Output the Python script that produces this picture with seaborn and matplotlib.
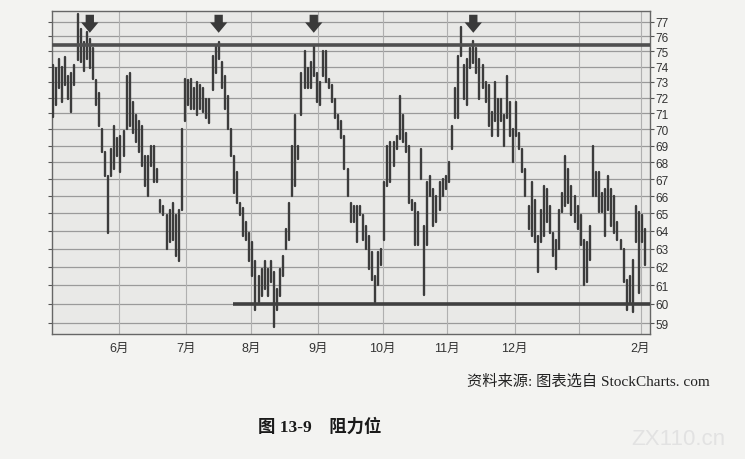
import numpy as np
import pandas as pd
import seaborn as sns
import matplotlib
matplotlib.use('Agg')
import matplotlib.pyplot as plt
from matplotlib.ticker import FixedLocator, FixedFormatter, NullLocator

sns.set_style('ticks')
plt.rcParams['font.family'] = ['Liberation Sans', 'Noto Sans CJK SC', 'DejaVu Sans']

# daily high / low (May .. early Feb)
highs = [74.1, 73.9, 74.5, 74.0, 74.6, 73.4, 73.6, 74.1, 77.5, 76.5, 75.6, 76.3, 75.8, 75.2, 73.1, 72.3, 70.0, 68.6, 67.2, 68.8, 70.2, 69.5,
         69.6, 69.9, 73.4, 73.6, 71.7, 70.9, 70.5, 70.2, 68.4, 68.4, 69.0, 69.0, 67.6, 65.8, 65.4, 64.9, 65.2, 65.6, 64.9, 65.2, 70.0, 73.2,
         73.1, 73.2, 72.6, 73.0, 72.8, 72.6, 71.9, 71.9, 74.7, 75.4, 75.6, 74.3, 73.4, 72.1, 70.0, 68.4, 67.4, 65.6, 65.3, 64.5, 63.9,
         63.4, 62.3, 61.5, 61.9, 62.3, 61.9, 62.3, 61.7, 60.8, 61.9, 62.6, 64.1, 65.6, 69.0, 70.9, 69.0, 73.6, 75.0, 73.9, 74.3, 75.4, 73.6,
         73.0, 75.0, 75.0, 73.2, 72.8, 71.9, 70.9, 70.5, 69.6, 67.6, 65.6, 65.4, 65.4, 65.4, 64.9, 64.3, 63.7, 62.8, 61.5, 62.8, 63.0,
         66.8, 69.0, 69.2, 69.2, 69.6, 72.1, 70.9, 69.8, 69.0, 65.8, 65.6, 65.1, 68.8, 64.3, 66.8, 67.2, 66.4, 66.0, 66.8, 67.0, 67.2,
         68.0, 70.2, 72.6, 74.7, 76.6, 74.1, 74.5, 75.2, 75.7, 75.2, 74.5, 74.1, 73.0, 72.8, 71.1, 73.0, 71.9, 71.9, 70.9, 73.4, 71.7, 70.0,
         71.7, 69.8, 68.8, 67.6, 65.4, 66.8, 65.8, 63.7, 65.2, 66.6, 66.4, 65.4, 63.9, 63.5, 65.2, 66.2, 68.4, 67.6, 66.6, 66.0, 65.4,
         64.9, 63.5, 63.4, 64.3, 69.0, 67.4, 67.4, 66.2, 66.4, 67.2, 66.4, 66.0, 64.5, 63.5, 63.0, 61.3, 61.5, 62.4, 65.4, 65.1,
         64.9, 64.1]
lows = [70.8, 71.5, 72.6, 71.7, 72.8, 71.9, 71.1, 72.8, 74.4, 74.3, 73.7, 74.5, 73.9, 73.2, 71.5, 70.2, 68.6, 67.2, 63.9, 67.2, 67.6, 68.4,
        67.4, 68.4, 70.0, 70.2, 69.8, 69.2, 68.6, 67.8, 66.6, 66.0, 67.8, 66.8, 66.8, 65.1, 64.9, 63.0, 63.4, 63.5, 62.6, 62.3, 65.2, 70.5,
        71.5, 71.3, 71.3, 70.9, 71.3, 71.1, 70.7, 70.4, 72.5, 73.6, 74.5, 72.6, 71.3, 70.0, 68.4, 66.2, 65.6, 64.9, 63.7, 63.5, 62.3,
        61.5, 59.7, 60.1, 60.4, 60.8, 60.4, 61.2, 58.8, 59.7, 60.4, 61.5, 63.0, 63.5, 66.0, 66.6, 68.2, 70.9, 72.6, 72.6, 72.6, 73.4, 71.7,
        71.5, 73.4, 73.0, 72.6, 71.7, 70.7, 70.0, 69.5, 67.6, 66.0, 64.5, 64.5, 63.4, 64.9, 63.5, 63.0, 61.9, 61.3, 60.1, 61.0, 62.1,
        63.5, 66.6, 66.8, 67.8, 68.8, 69.4, 69.2, 68.6, 65.6, 65.2, 63.2, 63.2, 67.0, 60.5, 63.2, 66.0, 64.3, 64.5, 65.2, 66.0, 66.4,
        66.8, 68.8, 70.7, 70.7, 74.7, 71.9, 71.5, 73.9, 74.2, 73.6, 71.9, 72.6, 71.7, 70.2, 69.6, 70.5, 69.6, 70.5, 69.0, 70.7, 69.6, 68.0,
        69.6, 68.8, 67.4, 66.0, 64.1, 63.7, 63.4, 61.7, 63.4, 63.7, 64.5, 63.9, 62.6, 61.9, 63.0, 65.1, 65.4, 65.6, 64.9, 64.5, 64.1,
        63.2, 61.0, 61.2, 62.4, 66.0, 66.0, 65.1, 65.1, 63.7, 65.2, 64.3, 63.9, 63.5, 63.0, 61.2, 59.7, 60.1, 59.6, 63.4, 60.6,
        63.4, 62.1]
assert len(highs) == len(lows)

month_starts = [22, 44, 65, 87, 108, 129, 151, 172, 192]
month_labels = ['6月', '7月', '8月', '9月', '10月', '11月', '12月', '', '2月']
price_ticks = list(range(59, 78))
peak_bars = [12, 54, 85, 137]
resistance = 75.4
support = 60.0
support_from = 58.6

n = len(highs)
df = pd.DataFrame({
    'bar': np.repeat(np.arange(n), 2),
    'day': np.repeat(np.arange(n), 2),
    'price': np.ravel(np.column_stack([lows, highs])),
})

fig = plt.figure(figsize=(7.45, 4.6), dpi=100, facecolor='#f3f3f1')
ax = fig.add_axes([0.0694, 0.2717, 0.8031, 0.7029])
ax.set_facecolor('#e9e9e7')

ax.set_yscale('log')
ax.set_ylim(58.43, 77.74)
ax.set_xlim(-0.42, n + 0.6)

for p in price_ticks:
    ax.axhline(p, color='#9a9a9a', lw=0.9, zorder=1)
for m in month_starts:
    ax.axvline(m - 0.5, color='#b0b0b0', lw=0.8, zorder=1)

sns.lineplot(data=df, x='day', y='price', units='bar', estimator=None,
             color='#3c3c3c', lw=1.7, ax=ax, zorder=3, legend=False)

ax.axhline(resistance, color='#505050', lw=2.6, zorder=4)
ax.plot([support_from, n + 0.6], [support, support], color='#404040', lw=2.6, zorder=4,
        solid_capstyle='butt')

for b in peak_bars:
    ax.annotate('', xy=(b, 76.05), xytext=(b, 77.65),
                arrowprops=dict(arrowstyle='simple,head_width=1.25,head_length=0.75,tail_width=0.6',
                                mutation_scale=10, color='#3a3a3a', lw=0), zorder=5)

ax.yaxis.tick_right()
ax.yaxis.set_major_locator(FixedLocator(price_ticks))
ax.yaxis.set_major_formatter(FixedFormatter([str(p) for p in price_ticks]))
ax.yaxis.set_minor_locator(NullLocator())
ax.tick_params(axis='y', which='major', length=3, width=0.8, pad=1, labelsize=8.5,
               labelcolor='#333333', color='#555555', right=True, left=True, direction='out')
ax.set_xticks([m - 0.5 for m in month_starts])
ax.set_xticklabels(month_labels)
ax.tick_params(axis='x', length=0, pad=6, labelsize=9, labelcolor='#333333')
ax.set_xlabel('')
ax.set_ylabel('')
for s in ax.spines.values():
    s.set_color('#666666')
    s.set_linewidth(1.0)

fig.text(0.953, 0.170, '资料来源: 图表选自 StockCharts. com', ha='right', va='center',
         fontsize=11, color='#222222', family=['Liberation Serif', 'Noto Sans CJK SC'])
fig.text(0.346, 0.072, '图 13-9    阻力位', ha='left', va='center', fontsize=12.5,
         fontweight='bold', color='#1a1a1a', family=['Liberation Serif', 'Noto Sans CJK SC'])
fig.text(0.91, 0.045, 'ZX110.cn', ha='center', va='center', fontsize=16, color='#e2e2e2')

fig.savefig('out.png', dpi=100, facecolor=fig.get_facecolor())
